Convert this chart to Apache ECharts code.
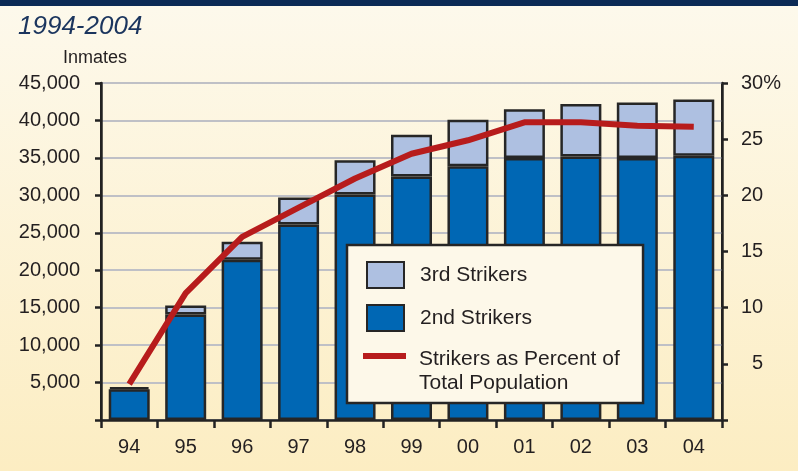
<!DOCTYPE html>
<html>
<head>
<meta charset="utf-8">
<script src="https://cdn.jsdelivr.net/npm/echarts@6/dist/echarts.min.js"></script>
<style>
  html, body { margin: 0; padding: 0; }
  body { width: 798px; height: 471px; background: linear-gradient(#fdf9ec, #fcedc2); overflow: hidden; }
  #topbar { position: absolute; left: 0; top: 0; width: 798px; height: 6px; background: #0b2a55; }
  #chart { width: 798px; height: 471px; }
</style>
</head>
<body>
<div id="topbar"></div>
<div id="chart"></div>
<script>
// 数据
var years = ['94', '95', '96', '97', '98', '99', '00', '01', '02', '03', '04'];
var secondStrikers = [4100, 14100, 21400, 26100, 30100, 32500, 33900, 35000, 35200, 35000, 35300];
var thirdStrikers = [300, 1200, 2400, 3600, 4600, 5600, 6200, 6500, 7000, 7400, 7500];
var strikerPercent = [3.2, 11.3, 16.3, 18.9, 21.5, 23.7, 24.9, 26.5, 26.5, 26.2, 26.1];

var leftTicks = [5000, 10000, 15000, 20000, 25000, 30000, 35000, 40000, 45000];

var textColor = '#231f20';
var fontName = 'Liberation Sans, Arial, sans-serif';
var lineName = 'Strikers as Percent of\nTotal Population';

var option = {
    animation: false,
    textStyle: { fontFamily: fontName },
    title: [
        {
            text: '1994-2004',
            left: 18, top: 14, padding: 0,
            textStyle: { fontSize: 26, fontStyle: 'italic', fontWeight: 'normal', color: '#1b355e', fontFamily: fontName }
        },
        {
            text: 'Inmates',
            left: 63, top: 49, padding: 0,
            textStyle: { fontSize: 18, fontWeight: 'normal', color: textColor, fontFamily: fontName }
        }
    ],
    legend: [
        {
            // 图例框 + 两个柱状图例
            orient: 'vertical',
            left: 347, top: 245,
            z: 6,
            backgroundColor: '#fdf8e9',
            borderColor: '#262626',
            borderWidth: 2.5,
            padding: [16, 111, 71, 19],
            itemWidth: 37,
            itemHeight: 26,
            itemGap: 15,
            icon: 'rect',
            textStyle: { fontSize: 21, color: textColor, padding: [0, 0, 0, 11], fontFamily: fontName },
            data: ['3rd Strikers', '2nd Strikers']
        },
        {
            // 折线图例（两行文字，线与第一行对齐）
            orient: 'vertical',
            left: 363, top: 327,
            z: 7,
            padding: 0,
            itemWidth: 43,
            itemHeight: 6,
            icon: 'rect',
            formatter: function () {
                return '{e| }\n{t|Strikers as Percent of}\n{t|Total Population}';
            },
            textStyle: {
                fontSize: 21, color: textColor, padding: [0, 0, 0, 8], fontFamily: fontName,
                rich: {
                    e: { fontSize: 10, lineHeight: 30 },
                    t: { fontSize: 21, lineHeight: 24, color: textColor, fontFamily: fontName }
                }
            },
            data: [lineName]
        }
    ],
    grid: {
        left: 101, right: 76, top: 83, bottom: 51,
        show: true,
        borderColor: '#222',
        borderWidth: 2,
        backgroundColor: 'transparent'
    },
    xAxis: {
        type: 'category',
        data: years,
        axisLine: { lineStyle: { color: '#222', width: 2.5 } },
        axisTick: { show: true, length: 8, lineStyle: { color: '#222', width: 2.5 } },
        axisLabel: { fontSize: 20, color: textColor, margin: 17 }
    },
    yAxis: [
        {
            type: 'value',
            min: 0, max: 45000, interval: 5000,
            axisLine: { show: true, lineStyle: { color: '#222', width: 2.5 } },
            axisTick: { show: true, length: 6, lineStyle: { color: '#222', width: 2.5 } },
            axisLabel: {
                fontSize: 20, color: textColor, margin: 21,
                formatter: function (v) {
                    if (leftTicks.indexOf(v) < 0) return '';
                    return v.toLocaleString('en-US');
                }
            },
            splitLine: { show: true, lineStyle: { color: '#bfc0c6', width: 2 } }
        },
        {
            type: 'value',
            min: 0, max: 30, interval: 5,
            position: 'right',
            axisLine: { show: true, lineStyle: { color: '#222', width: 2.5 } },
            axisTick: { show: true, length: 6, lineStyle: { color: '#222', width: 2.5 } },
            axisLabel: {
                fontSize: 20, color: textColor, margin: 19,
                formatter: function (v) {
                    if (v === 0) return '';
                    if (v === 30) return '30%';
                    return v < 10 ? '\u2007' + v : '' + v;
                }
            },
            splitLine: { show: false }
        }
    ],
    series: [
        {
            name: '2nd Strikers',
            type: 'bar',
            stack: 'inmates',
            barWidth: 41,
            data: secondStrikers,
            itemStyle: { color: '#0067b4', borderColor: '#262626', borderWidth: 2.5 }
        },
        {
            name: '3rd Strikers',
            type: 'bar',
            stack: 'inmates',
            barWidth: 41,
            data: thirdStrikers,
            itemStyle: { color: '#aec0e1', borderColor: '#262626', borderWidth: 2.5 }
        },
        {
            name: lineName,
            type: 'line',
            yAxisIndex: 1,
            data: strikerPercent,
            symbol: 'none',
            z: 5,
            itemStyle: { color: '#b71c1c' },
            lineStyle: { color: '#b71c1c', width: 6 }
        }
    ]
};

echarts.init(document.getElementById('chart')).setOption(option);
</script>
</body>
</html>
